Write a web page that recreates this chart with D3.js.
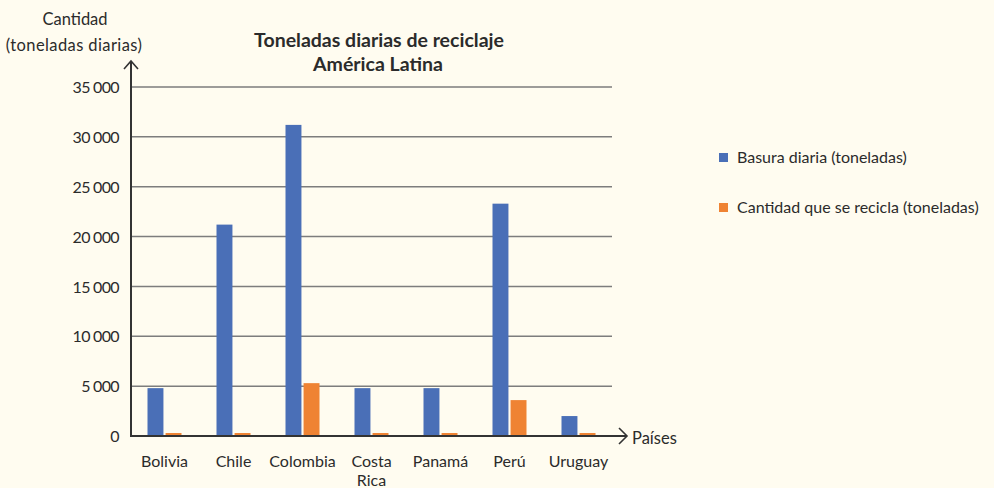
<!DOCTYPE html>
<html>
<head>
<meta charset="utf-8">
<script src="https://cdn.jsdelivr.net/npm/d3@7"></script>
<style>
  html, body { margin: 0; padding: 0; background: #fffcf0; }
  svg { display: block; }
  text { font-family: Lato, "Noto Sans", sans-serif; fill: #2b2b2b; }
</style>
</head>
<body>
<svg id="chart" width="994" height="488"></svg>
<script>
// Daily recycling tonnage, Latin America
const countries = ["Bolivia", "Chile", "Colombia", "Costa Rica", "Panamá", "Perú", "Uruguay"];
const basuraDiaria = [4800, 21200, 31200, 4800, 4800, 23300, 2000];
const reciclada = [300, 300, 5300, 300, 300, 3600, 300];
const seriesNames = ["Basura diaria (toneladas)", "Cantidad que se recicla (toneladas)"];
const yTicks = [0, 5000, 10000, 15000, 20000, 25000, 30000, 35000];
const colors = ["#4a6fb7", "#ef8333"];

const svg = d3.select("#chart");
const margin = { left: 131, top: 87 };
const plotRight = 614;
const y0 = 436;

const x = d3.scaleBand().domain(countries).range([margin.left, plotRight]);
const xs = d3.scaleBand().domain([0, 1]).range([0, 34]).paddingInner(4 / 34);
const y = d3.scaleLinear().domain([0, 35000]).range([y0, margin.top]);

// gridlines
svg.append("g")
  .selectAll("line").data(yTicks.filter(d => d > 0)).join("line")
  .attr("x1", margin.left).attr("x2", 612)
  .attr("y1", d => y(d)).attr("y2", d => y(d))
  .attr("stroke", "#7d7d7d").attr("stroke-width", 1.5);

// y tick labels, thousands separated by a thin gap
const yAxis = d3.axisLeft(y).tickValues(yTicks).tickFormat("").tickSize(0);
const gy = svg.append("g").attr("transform", `translate(${margin.left},0)`).call(yAxis);
gy.select(".domain").remove();
gy.selectAll(".tick").append("text")
  .attr("x", -12).attr("dy", "0.35em").attr("text-anchor", "end")
  .attr("font-size", 16).attr("letter-spacing", "-0.6px")
  .each(function (d) {
    const t = d3.select(this);
    if (d < 1000) { t.text(d); return; }
    t.append("tspan").text(Math.floor(d / 1000));
    t.append("tspan").attr("dx", 3).text("000");
  });

// bars
const groups = svg.append("g").selectAll("g").data(countries).join("g")
  .attr("transform", d => `translate(${x(d) + x.bandwidth() / 2 - 18},0)`);
groups.selectAll("rect")
  .data((d, i) => [basuraDiaria[i], reciclada[i]])
  .join("rect")
  .attr("x", (d, j) => xs(j))
  .attr("width", xs.bandwidth())
  .attr("y", d => y(d))
  .attr("height", d => y0 - y(d))
  .attr("fill", (d, j) => colors[j]);

// axes with arrows
const axisColor = "#333";
svg.append("line").attr("x1", margin.left).attr("x2", margin.left)
  .attr("y1", y0 + 1).attr("y2", 61).attr("stroke", axisColor).attr("stroke-width", 2);
svg.append("path").attr("d", `M${margin.left - 7},69 L${margin.left},61 L${margin.left + 7},69`)
  .attr("fill", "none").attr("stroke", axisColor).attr("stroke-width", 1.6);
svg.append("line").attr("x1", margin.left - 1).attr("x2", 627)
  .attr("y1", y0).attr("y2", y0).attr("stroke", axisColor).attr("stroke-width", 2);
svg.append("path").attr("d", `M619,${y0 - 8} L627,${y0} L619,${y0 + 8}`)
  .attr("fill", "none").attr("stroke", axisColor).attr("stroke-width", 1.6);

// x category labels (two-word names wrap onto a second line)
const labelLines = countries.flatMap(c =>
  c.split(" ").map((word, i) => ({ country: c, word, line: i })));
svg.append("g").selectAll("text").data(labelLines).join("text")
  .attr("text-anchor", "middle")
  .attr("font-size", 16)
  .attr("x", d => x(d.country) + x.bandwidth() / 2 - 1)
  .attr("y", d => 467 + d.line * 19)
  .text(d => d.word);

svg.append("text").attr("x", 632).attr("y", 444).attr("font-size", 16.5).text("Países");

// y axis title
svg.append("text").attr("x", 75).attr("y", 25).attr("text-anchor", "middle").attr("font-size", 16.5).text("Cantidad");
svg.append("text").attr("x", 74).attr("y", 51).attr("text-anchor", "middle").attr("font-size", 16.5).attr("letter-spacing", "0.4px").text("(toneladas diarias)");

// chart title
svg.append("text").attr("x", 379).attr("y", 47).attr("text-anchor", "middle")
  .attr("font-size", 19.5).attr("font-weight", "bold").text("Toneladas diarias de reciclaje");
svg.append("text").attr("x", 378).attr("y", 71).attr("text-anchor", "middle")
  .attr("font-size", 19.5).attr("font-weight", "bold").text("América Latina");

// legend
const legend = svg.append("g").selectAll("g").data(seriesNames).join("g")
  .attr("transform", (d, i) => `translate(719,${153 + i * 50})`);
legend.append("rect").attr("width", 9).attr("height", 9).attr("fill", (d, i) => colors[i]);
legend.append("text").attr("x", 18).attr("y", 10).attr("font-size", 16).text(d => d);
</script>
</body>
</html>
